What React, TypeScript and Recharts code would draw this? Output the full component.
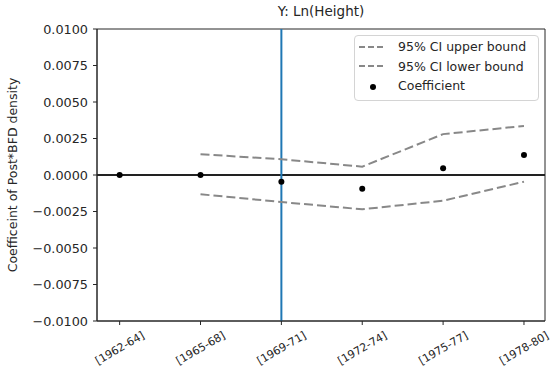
import React from 'react';
import {
  ComposedChart,
  Line,
  XAxis,
  YAxis,
  ReferenceLine,
  ReferenceArea,
  Legend,
} from 'recharts';

const periods = ['[1962-64]', '[1965-68]', '[1969-71]', '[1972-74]', '[1975-77]', '[1978-80]'];
const upperBound = [null, 0.00142, 0.00108, 0.00057, 0.0028, 0.00336];
const lowerBound = [null, -0.00132, -0.00185, -0.00235, -0.00176, -0.00046];
const coefficient = [0, 0, -0.00046, -0.00094, 0.00046, 0.00137];
const yTicks = [-0.01, -0.0075, -0.005, -0.0025, 0, 0.0025, 0.005, 0.0075, 0.01];
const xTicks = [0, 1, 2, 3, 4, 5];

const data = periods.map((p, i) => ({
  x: i,
  upper: upperBound[i],
  lower: lowerBound[i],
  coef: coefficient[i],
}));

const FONT = '"DejaVu Sans", sans-serif';
const INK = '#262626';

const fmtY = (v: number) => {
  const s = Math.abs(v).toFixed(4);
  return v < 0 ? `\u2212${s}` : s;
};

const XTick = (props: any) => {
  const { x, y, payload } = props;
  return (
    <g transform={`translate(${x},${y + 21}) rotate(-30)`}>
      <text textAnchor="middle" dy="0.35em" fontSize={11} fill={INK} fontFamily={FONT}>
        {periods[payload.value]}
      </text>
    </g>
  );
};

const LegendBox = () => {
  const row = { display: 'flex', alignItems: 'center', height: 19.6 } as React.CSSProperties;
  const label = { marginLeft: 12, fontSize: 12.5, color: INK } as React.CSSProperties;
  return (
    <div
      style={{
        border: '1px solid #d4d4d4',
        borderRadius: 4,
        background: 'rgba(255,255,255,0.85)',
        padding: '1px 0 4px 0',
        fontFamily: FONT,
        boxSizing: 'border-box',
      }}
    >
      {['95% CI upper bound', '95% CI lower bound'].map((t) => (
        <div key={t} style={row}>
          <svg width={31} height={10}>
            <line x1={4} y1={5} x2={31} y2={5} stroke="#888" strokeWidth={2} strokeDasharray="6 3" />
          </svg>
          <span style={label}>{t}</span>
        </div>
      ))}
      <div style={row}>
        <svg width={31} height={10}>
          <circle cx={18} cy={6} r={3} fill="#000" />
        </svg>
        <span style={label}>Coefficient</span>
      </div>
    </div>
  );
};

const App: React.FC = () => {
  return (
    <div style={{ position: 'absolute', left: 0, top: 0, width: 551, height: 379, background: '#fff', fontFamily: FONT }}>
      <div
        style={{
          position: 'absolute',
          left: 97,
          width: 448,
          top: 3,
          textAlign: 'center',
          fontSize: 13.5,
          color: INK,
        }}
      >
        Y: Ln(Height)
      </div>
      <ComposedChart
        width={551}
        height={379}
        data={data}
        margin={{ top: 29, right: 6, bottom: 0, left: 0 }}
      >
        <XAxis
          dataKey="x"
          type="number"
          domain={[-0.28, 5.26]}
          ticks={xTicks}
          interval={0}
          height={58}
          tickSize={4}
          tickMargin={2}
          stroke={INK}
          tick={<XTick />}
        />
        <YAxis
          type="number"
          domain={[-0.01, 0.01]}
          ticks={yTicks}
          interval={0}
          width={97}
          tickSize={4}
          tickMargin={5}
          stroke={INK}
          tickFormatter={fmtY}
          tick={{ fontSize: 12.8, fill: INK, fontFamily: FONT }}
          label={{
            value: 'Coefficeint of Post*BFD density',
            angle: -90,
            position: 'insideLeft',
            dx: 8,
            style: { textAnchor: 'middle', fontSize: 12.5, fill: INK, fontFamily: FONT },
          }}
        />
        <ReferenceArea x1={-0.28} x2={5.26} y1={-0.01} y2={0.01} fill="none" stroke={INK} strokeWidth={1} />
        <ReferenceLine y={0} stroke="#222" strokeWidth={1.8} />
        <ReferenceLine x={2} stroke="#1f77b4" strokeWidth={2} />
        <Line
          dataKey="upper"
          stroke="#888"
          strokeWidth={2}
          strokeDasharray="9 4"
          dot={false}
          isAnimationActive={false}
        />
        <Line
          dataKey="lower"
          stroke="#888"
          strokeWidth={2}
          strokeDasharray="9 4"
          dot={false}
          isAnimationActive={false}
        />
        <Line
          dataKey="coef"
          stroke="none"
          dot={{ r: 3, fill: '#000', stroke: 'none' }}
          activeDot={false}
          isAnimationActive={false}
        />
        <Legend
          layout="horizontal"
          verticalAlign="middle"
          align="center"
          content={<LegendBox />}
          wrapperStyle={{ position: 'absolute', left: 354, top: 35, width: 185, height: 'auto' }}
        />
      </ComposedChart>
    </div>
  );
};

export default App;
